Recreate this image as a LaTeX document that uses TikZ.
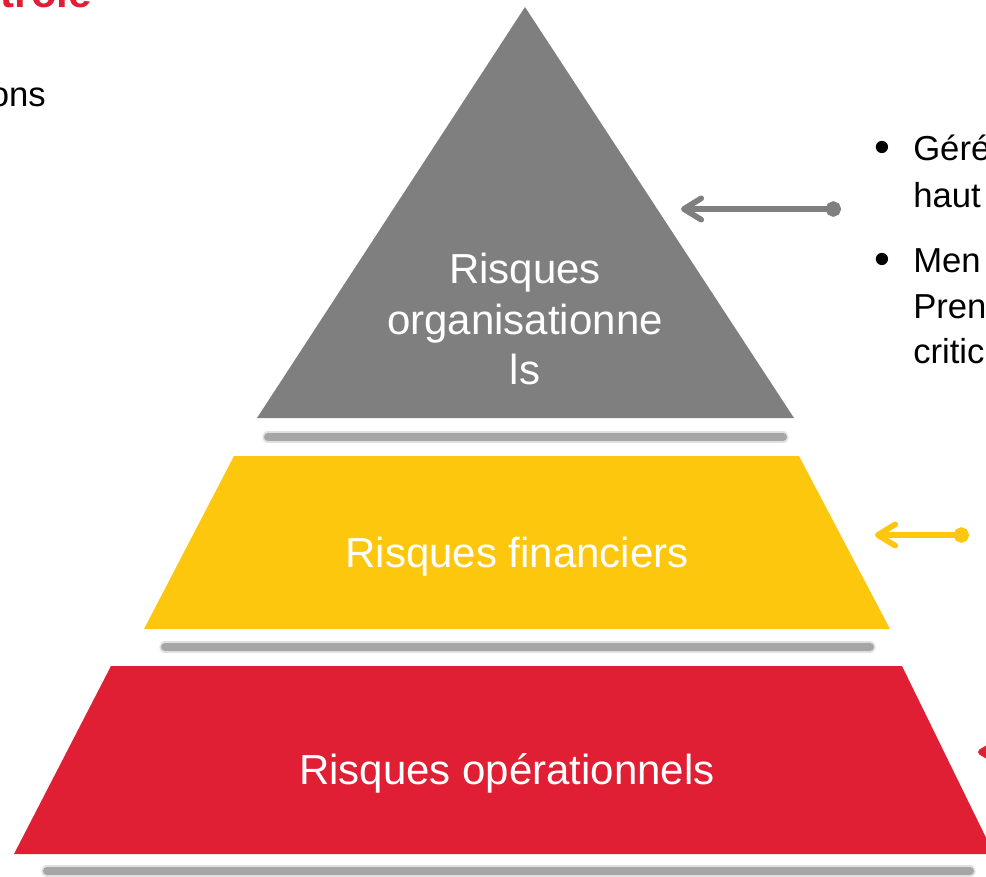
\documentclass[tikz,border=0pt]{standalone}
\usepackage{fontspec}
\setmainfont{Liberation Sans}
\usetikzlibrary{arrows.meta, positioning}
\definecolor{layerGray}{HTML}{7F7F7F}
\definecolor{layerYellow}{HTML}{FDC70E}
\definecolor{layerRed}{HTML}{E01E34}
\definecolor{shadowGray}{HTML}{A6A6A6}
\tikzset{%
% Specifications for style of layers, texts and arrows:
layerText/.style = {text=white, font=\fontsize{31.5}{38}\selectfont, align=center, inner sep=0},
sideText/.style = {text=black, font=\fontsize{26}{31}\selectfont, inner sep=0, anchor=base west},
bulletMark/.style = {text=black, font=\fontsize{34}{40}\selectfont, inner sep=0, anchor=base},
headText/.style = {text=layerRed, font=\bfseries\fontsize{31.5}{38}\selectfont, inner sep=0, anchor=base east},
shadowBar/.style = {shadowGray, line width=6pt, line cap=round,
    preaction={draw, shadowGray, opacity=.35, line width=8.5pt, line cap=round}},
linkArrow/.style = {line width=4.3pt,
    arrows={Circle[length=11.5pt]-Straight Barb[length=13pt, width=16pt, round]}},
}
\begin{document}
\begin{tikzpicture}[x=0.75pt, y=-0.75pt]
    \useasboundingbox (0,0) rectangle (986,876);
    \clip (0,0) rectangle (986,876);
    % Shadows under the layers
    \draw [shadowBar] (268,437) -- (783,437);
    \draw [shadowBar] (165,647) -- (870,647);
    \draw [shadowBar] (47,871) -- (970,871);
    % Layers of the pyramid
    \fill [layerGray] (525,7) -- (794,418) -- (257,418) -- cycle;
    \fill [layerYellow] (234,456) -- (799,456) -- (890,629) -- (144,629) -- cycle;
    \fill [layerRed] (111,666) -- (902,666) -- (994,854) -- (14,854) -- cycle;
    % Texts of the layers
    \node (topLayer) [layerText] at (525,319) {Risques\\organisationne\\ls};
    \node (midLayer) [layerText] at (517,557) {Risques financiers};
    \node (baseLayer) [layerText] at (507,773) {Risques opérationnels};
    % Texts at the edges
    \node (heading) [headText] at (92,7) {Contrôle};
    \node (leftLine) [sideText, anchor=base east] at (46,106) {ons};
    \node (bulletOne) [bulletMark] at (882,162) {•};
    \node (itemOneA) [sideText] at (913,160) {Géré};
    \node (itemOneB) [sideText] at (913,207) {haut};
    \node (bulletTwo) [bulletMark] at (882,274) {•};
    \node (itemTwoA) [sideText] at (913,272) {Men};
    \node (itemTwoB) [sideText] at (913,318) {Pren};
    \node (itemTwoC) [sideText] at (913,363) {critic};
    % Arrows pointing at the layers
    \coordinate (grayDot) at (841,209);
    \coordinate (grayTip) at (681,209);
    \coordinate (yellowDot) at (969,535);
    \coordinate (yellowTip) at (875,535);
    \coordinate (redDot) at (1060,752);
    \coordinate (redTip) at (978,752);
    \draw [linkArrow, layerGray] (grayDot) -- (grayTip);
    \draw [linkArrow, layerYellow] (yellowDot) -- (yellowTip);
    \draw [linkArrow, layerRed] (redDot) -- (redTip);
\end{tikzpicture}
\end{document}
